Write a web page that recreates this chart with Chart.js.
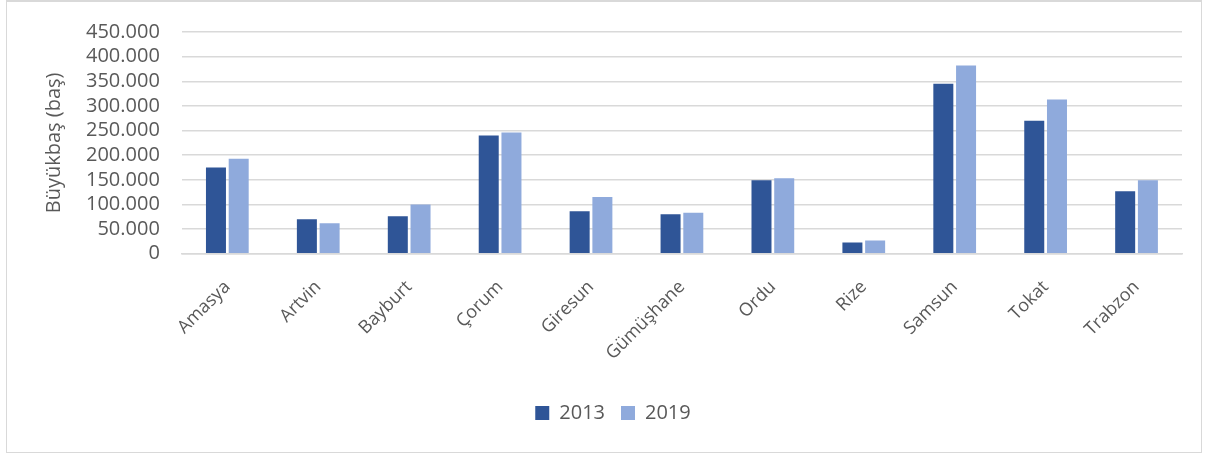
<!DOCTYPE html>
<html>
<head>
<meta charset="utf-8">
<script src="https://cdn.jsdelivr.net/npm/chart.js@4/dist/chart.umd.min.js"></script>
<style>
  html, body { margin: 0; padding: 0; background: #fff; }
  #frame { position: absolute; left: 6px; top: 0px; width: 1194px; height: 450px; border: 1px solid #d9d9d9; border-top-width: 2px; }
  #wrap { position: absolute; left: 0; top: 0; width: 1208px; height: 454px; }
</style>
</head>
<body>
<div id="frame"></div>
<div id="wrap"><canvas id="chart"></canvas></div>
<script>
// iller
var provinces = ['Amasya', 'Artvin', 'Bayburt', 'Çorum', 'Giresun', 'Gümüşhane', 'Ordu', 'Rize', 'Samsun', 'Tokat', 'Trabzon'];
// büyükbaş sayısı
var values2013 = [175000, 70000, 76000, 240000, 86000, 80000, 149000, 23000, 345000, 270000, 127000];
var values2019 = [193000, 62000, 100000, 246000, 115000, 83000, 153000, 27000, 382000, 313000, 149000];
var yTicks = [0, 50000, 100000, 150000, 200000, 250000, 300000, 350000, 400000, 450000];

var fontFam = "'Open Sans', sans-serif";
var txtColor = '#595959';

function fmt(v) {
	return String(v).replace(/\B(?=(\d{3})+(?!\d))/g, '.');
}

var ctx = document.getElementById('chart').getContext('2d');
var chart = new Chart(ctx, {
	type: 'bar',
	data: {
		labels: provinces,
		datasets: [{
			label: '2013',
			data: values2013,
			backgroundColor: '#2F5597',
			categoryPercentage: 0.5,
			barPercentage: 0.88
		}, {
			label: '2019',
			data: values2019,
			backgroundColor: '#8FAADC',
			categoryPercentage: 0.5,
			barPercentage: 0.88
		}]
	},
	options: {
		responsive: true,
		maintainAspectRatio: false,
		animation: false,
		layout: { padding: { left: 44, right: 26, top: 15, bottom: 21 } },
		plugins: {
			tooltip: { enabled: false },
			legend: {
				position: 'bottom',
				labels: {
					font: { family: fontFam, size: 20, lineHeight: 1 },
					color: txtColor,
					boxWidth: 14,
					boxHeight: 14,
					padding: 16
				}
			}
		},
		scales: {
			x: {
				grid: { display: false, drawTicks: false },
				border: { display: true, color: '#d9d9d9', width: 1.5 },
				ticks: {
					font: { family: fontFam, size: 18, lineHeight: 1 },
					color: txtColor,
					minRotation: 45,
					maxRotation: 45,
					padding: 24
				}
			},
			y: {
				min: 0,
				max: 450000,
				afterBuildTicks: function(axis) {
					axis.ticks = yTicks.map(function(v) { return { value: v }; });
				},
				grid: { color: '#d9d9d9', lineWidth: 1.5, drawTicks: false },
				border: { display: false },
				ticks: {
					font: { family: fontFam, size: 20, lineHeight: 1 },
					color: txtColor,
					padding: 22,
					autoSkip: false,
					callback: function(v) { return fmt(v); }
				},
				title: {
					display: true,
					text: 'Büyükbaş (baş)',
					font: { family: fontFam, size: 20, lineHeight: 1 },
					color: txtColor,
					padding: { top: 0, bottom: 0 }
				}
			}
		}
	}
});
</script>
</body>
</html>
